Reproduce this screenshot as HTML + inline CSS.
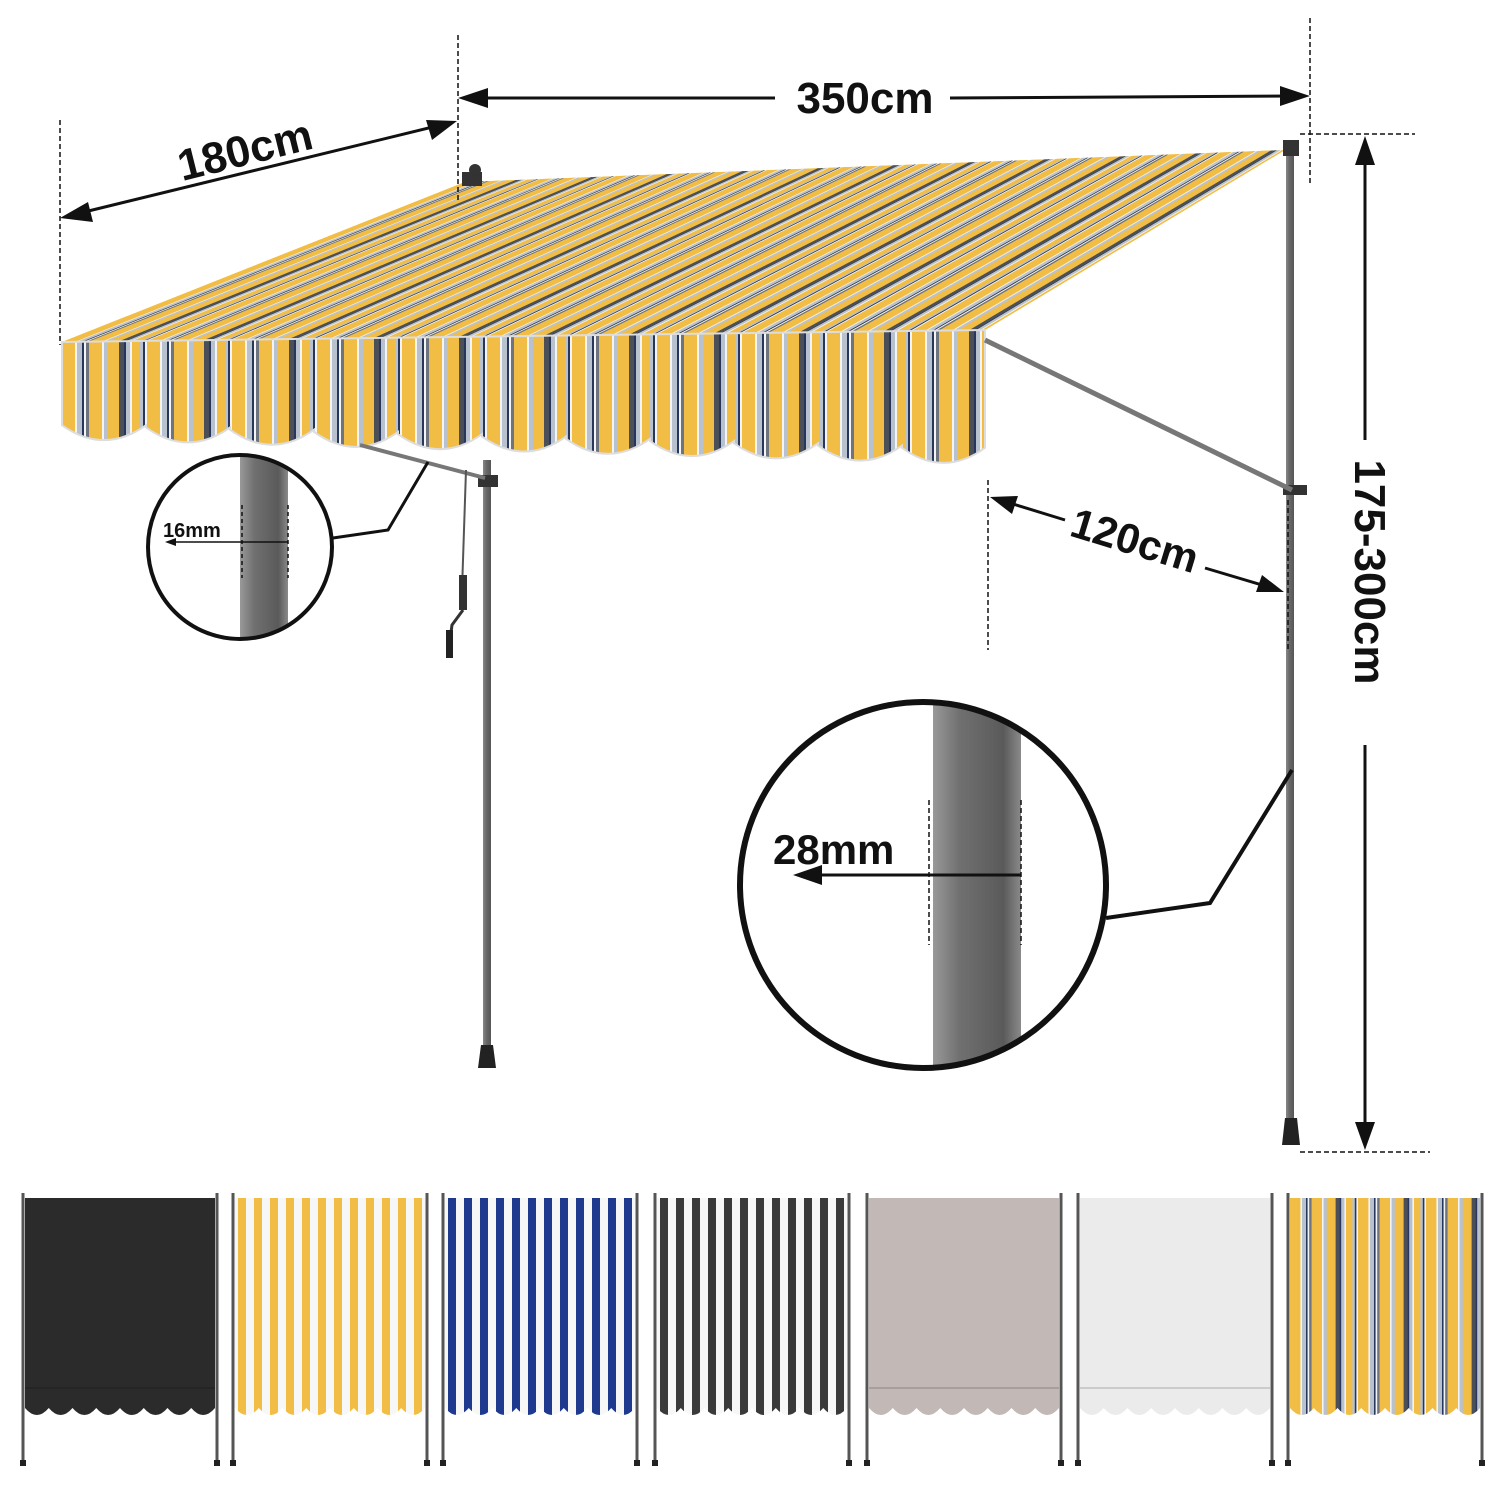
<!DOCTYPE html>
<html><head><meta charset="utf-8"><style>
html,body{margin:0;padding:0;background:#fff}
svg{display:block}
text{font-family:"Liberation Sans",Arial,sans-serif;font-weight:bold;fill:#111}
</style></head><body>
<svg id="s" width="1500" height="1500" viewBox="0 0 1500 1500" xmlns="http://www.w3.org/2000/svg">
<defs>
<linearGradient id="pole" x1="0" x2="1"><stop offset="0" stop-color="#888"/><stop offset="0.4" stop-color="#6a6a6a"/><stop offset="1" stop-color="#555"/></linearGradient>
<linearGradient id="bigpole" x1="0" x2="1"><stop offset="0" stop-color="#999"/><stop offset="0.3" stop-color="#707070"/><stop offset="0.8" stop-color="#5a5a5a"/><stop offset="1" stop-color="#8a8a8a"/></linearGradient>
<clipPath id="c1"><circle cx="240" cy="547" r="92"/></clipPath>
<clipPath id="c2"><circle cx="923" cy="885" r="183"/></clipPath>
</defs>
<g id="aw"></g>
<rect x="483" y="460" width="8" height="600" fill="url(#pole)"/>
<path d="M478 1068 L496 1068 L493 1045 L481 1045Z" fill="#222"/>
<rect x="1286" y="140" width="8" height="1000" fill="url(#pole)"/>
<path d="M1282 1145 L1300 1145 L1297 1118 L1285 1118Z" fill="#222"/>
<rect x="1283" y="140" width="16" height="16" fill="#333"/>
<rect x="1283" y="485" width="24" height="10" fill="#333"/>
<rect x="478" y="475" width="20" height="12" fill="#333"/>
<line x1="985" y1="340" x2="1292" y2="490" stroke="#777" stroke-width="5"/>
<line x1="360" y1="445" x2="485" y2="478" stroke="#777" stroke-width="4"/>
<line x1="466" y1="470" x2="462" y2="590" stroke="#555" stroke-width="2"/>
<rect x="459" y="575" width="8" height="35" fill="#333"/>
<path d="M463 610 L452 625 L450 640" stroke="#333" stroke-width="3" fill="none"/>
<rect x="446" y="630" width="7" height="28" fill="#222"/>
<rect x="462" y="172" width="20" height="14" fill="#333"/>
<circle cx="475" cy="170" r="6" fill="#333"/>
<g stroke="#111" stroke-width="1.5" stroke-dasharray="5,3" fill="none">
<line x1="458" y1="35" x2="458" y2="200"/>
<line x1="1310" y1="18" x2="1310" y2="185"/>
<line x1="60" y1="120" x2="60" y2="345"/>
<line x1="1300" y1="134" x2="1415" y2="134"/>
<line x1="1300" y1="1152" x2="1430" y2="1152"/>
<line x1="988" y1="480" x2="988" y2="650"/>
<line x1="1288" y1="500" x2="1288" y2="650"/>
</g>
<g stroke="#111" stroke-width="3" fill="none">
<line x1="470" y1="98" x2="775" y2="98"/>
<line x1="950" y1="98" x2="1298" y2="96"/>
<line x1="72" y1="215" x2="445" y2="124"/>
<line x1="1000" y1="500" x2="1065" y2="520"/>
<line x1="1205" y1="568" x2="1272" y2="588"/>
<line x1="1365" y1="148" x2="1365" y2="440"/>
<line x1="1365" y1="745" x2="1365" y2="1140"/>
</g>
<g fill="#111">
<path d="M458 98 L488 88 L488 108Z"/>
<path d="M1310 96 L1280 86 L1280 106Z"/>
<path d="M60 218 L88 202 L93 222Z"/>
<path d="M457 121 L426 120 L432 140Z"/>
<path d="M990 497 L1018 496 L1012 514Z"/>
<path d="M1284 592 L1256 592 L1262 575Z"/>
<path d="M1365 136 L1355 165 L1375 165Z"/>
<path d="M1365 1150 L1355 1122 L1375 1122Z"/>
</g>
<text x="865" y="113" font-size="44" text-anchor="middle">350cm</text>
<text x="245" y="165" font-size="44" text-anchor="middle" transform="rotate(-14 245 150)">180cm</text>
<text x="1135" y="555" font-size="42" text-anchor="middle" transform="rotate(17 1135 540)">120cm</text>
<text x="1355" y="572" font-size="44" text-anchor="middle" transform="rotate(90 1355 572)">175-300cm</text>
<g clip-path="url(#c1)"><rect x="240" y="440" width="48" height="210" fill="url(#bigpole)"/></g>
<circle cx="240" cy="547" r="92" fill="none" stroke="#111" stroke-width="4"/>
<polyline points="333,538 388,530 428,462" fill="none" stroke="#111" stroke-width="3"/>
<g stroke="#111" stroke-width="1.5" stroke-dasharray="4,3"><line x1="242" y1="505" x2="242" y2="578"/><line x1="288" y1="505" x2="288" y2="578"/></g>
<line x1="172" y1="542" x2="288" y2="542" stroke="#111" stroke-width="1.5"/>
<path d="M165 542 L176 538 L176 546Z" fill="#111"/>
<text x="163" y="537" font-size="20">16mm</text>
<g clip-path="url(#c2)"><rect x="933" y="690" width="88" height="390" fill="url(#bigpole)"/></g>
<circle cx="923" cy="885" r="183" fill="none" stroke="#111" stroke-width="6"/>
<polyline points="1106,918 1210,903 1292,770" fill="none" stroke="#111" stroke-width="4"/>
<g stroke="#111" stroke-width="1.5" stroke-dasharray="5,3"><line x1="929" y1="800" x2="929" y2="945"/><line x1="1021" y1="800" x2="1021" y2="945"/></g>
<line x1="810" y1="875" x2="1021" y2="875" stroke="#111" stroke-width="3"/>
<path d="M793 875 L822 865 L822 885Z" fill="#111"/>
<text x="773" y="864" font-size="42">28mm</text>
<g id="th"></g>
</svg>
<script>
const NS="http://www.w3.org/2000/svg";
function el(p,t,a){const e=document.createElementNS(NS,t);for(const k in a)e.setAttribute(k,a[k]);p.appendChild(e);return e;}
const Y="#f2bd45",W="#f4f4f4",L="#b8c2cf",N="#27365a",G="#6d7480",D="#4a4f58";
const unit=[[Y,13],[W,2],[L,5],[N,2],[W,2],[G,3],[Y,13],[W,2],[L,4],[Y,11],[D,5],[N,2],[L,4],[W,2],[Y,8],[L,3],[N,2],[W,2]];
const aw=document.getElementById('aw');
const x0=62,x1=985,fy0=342,fy1=330,bx0=465,bx1=1285,by0=182,by1=150;
let pos=0,T=x1-x0;
el(aw,'polygon',{points:`${x0},${fy0} ${x1},${fy1} ${bx1},${by1} ${bx0},${by0}`,fill:Y});
while(pos<T){for(const [c,w] of unit){if(pos>=T)break;const a=pos/T,b=Math.min(pos+w,T)/T;
const P=t=>[x0+(x1-x0)*t,fy0+(fy1-fy0)*t],Q=t=>[bx0+(bx1-bx0)*t,by0+(by1-by0)*t];
el(aw,'polygon',{points:`${P(a)} ${P(b)} ${Q(b)} ${Q(a)}`,fill:c});pos+=w;}}
let d=`M${x0},${fy0} L${x1},${fy1} `;
const per=84;const n=Math.ceil(T/per);
for(let i=n;i>0;i--){const xa=x0+Math.min(i*per,T),xb=x0+(i-1)*per;const yb=432+25*(((xa+xb)/2-x0)/T);
d+=`L${xa},${yb-8} Q${(xa+xb)/2},${yb+22} ${xb},${yb-8} `;}
d+='Z';
const cp=el(document.querySelector('defs'),'clipPath',{id:'val'});el(cp,'path',{d});
const vg=el(aw,'g',{'clip-path':'url(#val)'});
pos=0;while(pos<T){for(const [c,w] of unit){if(pos>=T)break;el(vg,'rect',{x:x0+pos,y:320,width:w+0.5,height:160,fill:c});pos+=w;}}
el(aw,'path',{d,fill:'none',stroke:'#ddd','stroke-width':2});
const th=document.getElementById('th');
const xs=[20,230,440,652,864,1075,1285];
const kinds=['black','yellow','blue','gray','taupe','white','multi'];
xs.forEach((x,i)=>{const w=195,top=1198,bot=1412;const k=kinds[i];
const id='t'+i;const c=el(document.querySelector('defs'),'clipPath',{id});
let p=`M${x+5},${top} L${x+w},${top} L${x+w},${bot}`;for(let j=8;j>0;j--){const xa=x+5+j*(w-5)/8,xb=x+5+(j-1)*(w-5)/8;p+=` L${xa},${bot-4} Q${(xa+xb)/2},${bot+10} ${xb},${bot-4}`;}p+=' Z';
el(c,'path',{d:p});const gg=el(th,'g',{'clip-path':`url(#${id})`});
if(k=='black')el(gg,'rect',{x:x,y:top,width:w+5,height:240,fill:'#2b2b2b'});
else if(k=='taupe')el(gg,'rect',{x:x,y:top,width:w+5,height:240,fill:'#c2b8b6'});
else if(k=='white')el(gg,'rect',{x:x,y:top,width:w+5,height:240,fill:'#ebebeb'});
else if(k=='multi'){let q=0;while(q<w){for(const [cc,ww] of unit){el(gg,'rect',{x:x+5+q*0.8,y:top,width:ww*0.8+0.3,height:240,fill:cc});q+=ww;}}}
else{const col=k=='yellow'?'#f2bd45':k=='blue'?'#1e3a8e':'#3a3a3a';el(gg,'rect',{x:x,y:top,width:w+5,height:240,fill:'#f7f7f7'});for(let q=x+8;q<x+w;q+=16)el(gg,'rect',{x:q,y:top,width:8,height:240,fill:col});}
if(k=='black'||k=='taupe'||k=='white')el(th,'line',{x1:x+5,y1:1388,x2:x+w,y2:1388,stroke:'#00000022','stroke-width':2});
[x+3,x+w+2].forEach(px=>{el(th,'rect',{x:px-1.5,y:top-5,width:3,height:270,fill:'#555'});el(th,'rect',{x:px-3,y:1460,width:6,height:6,fill:'#222'});});
});
</script>
</body></html>
